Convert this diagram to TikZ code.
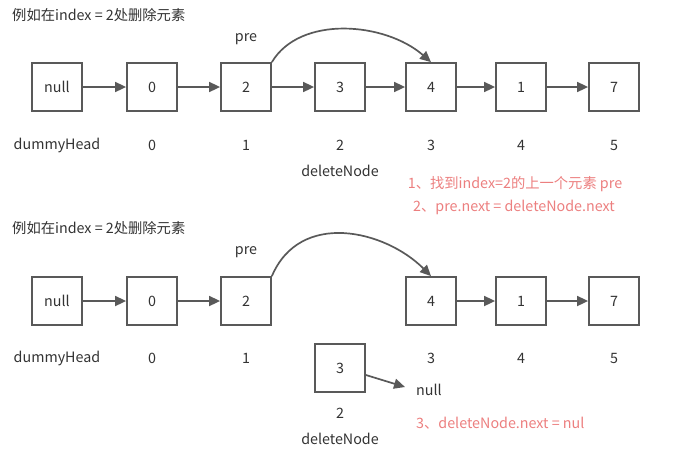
\documentclass[tikz,border=0pt]{standalone}
\usepackage{fontspec}
\setmainfont{Noto Sans CJK SC}
\usetikzlibrary{arrows.meta}
\definecolor{ln}{HTML}{595959}
\definecolor{txt}{HTML}{333333}
\definecolor{redt}{HTML}{EC7F7F}
\tikzset{
  box/.style={draw=ln, line width=1.8pt, minimum width=50pt, minimum height=48pt, inner sep=0pt, text=txt, font=\fontsize{14.3pt}{17pt}\selectfont},
  lbl/.style={text=txt, inner sep=0pt, font=\fontsize{14.3pt}{17pt}\selectfont},
  rlbl/.style={text=redt, inner sep=0pt, font=\fontsize{14.3pt}{17pt}\selectfont},
  link/.style={draw=ln, line width=1.7pt, -{Triangle[length=11pt,width=10pt]}},
}
\begin{document}
\begin{tikzpicture}[x=1pt,y=-1pt]
\useasboundingbox (0,0) rectangle (674,459);
% ---------- row 1 ----------
\node[lbl, anchor=west] (t1) at (12,15) {例如在index = 2处删除元素};
\node[lbl] (pre1) at (246,39) {pre};
\node[box] (a0) at (57,87) {null};
\node[box] (a1) at (152,87) {0};
\node[box] (a2) at (246,87) {2};
\node[box] (a3) at (340,87) {3};
\node[box] (a4) at (431,87) {4};
\node[box] (a5) at (521,87) {1};
\node[box] (a6) at (614,87) {7};
\draw[link] (a0) -- (a1);
\draw[link] (a1) -- (a2);
\draw[link] (a2) -- (a3);
\draw[link] (a3) -- (a4);
\draw[link] (a4) -- (a5);
\draw[link] (a5) -- (a6);
\draw[link] (a2.north east) .. controls (300,15) and (385,22) .. (a4.north);
\node[lbl] (la0) at (57,145) {dummyHead};
\node[lbl] (la1) at (152,145) {0};
\node[lbl] (la2) at (246,145) {1};
\node[lbl] (la3) at (340,145) {2};
\node[lbl] (la4) at (431,145) {3};
\node[lbl] (la5) at (521,145) {4};
\node[lbl] (la6) at (614,145) {5};
\node[lbl] (dn1) at (340,171) {deleteNode};
\node[rlbl] (r1) at (515,184) {1、找到index=2的上一个元素 pre};
\node[rlbl] (r2) at (514,207) {2、pre.next = deleteNode.next};
% ---------- row 2 ----------
\node[lbl, anchor=west] (t2) at (12,228) {例如在index = 2处删除元素};
\node[lbl] (pre2) at (246,252) {pre};
\node[box] (b0) at (57,301) {null};
\node[box] (b1) at (152,301) {0};
\node[box] (b2) at (246,301) {2};
\node[box] (b4) at (431,301) {4};
\node[box] (b5) at (521,301) {1};
\node[box] (b6) at (614,301) {7};
\draw[link] (b0) -- (b1);
\draw[link] (b1) -- (b2);
\draw[link] (b4) -- (b5);
\draw[link] (b5) -- (b6);
\draw[link] (b2.north east) .. controls (300,210) and (385,230) .. (b4.north);
\node[lbl] (lb0) at (57,358) {dummyHead};
\node[lbl] (lb1) at (152,358) {0};
\node[lbl] (lb2) at (246,358) {1};
\node[lbl] (lb4) at (431,358) {3};
\node[lbl] (lb5) at (521,358) {4};
\node[lbl] (lb6) at (614,358) {5};
\node[box] (b3) at (340,368) {3};
\node[lbl] (nl) at (429,390) {null};
\coordinate (nlend) at (405,387);
\draw[link] (b3.east |- 0,375) -- (nlend);
\node[lbl] (lb3) at (340,413) {2};
\node[lbl] (dn2) at (340,439) {deleteNode};
\node[rlbl, anchor=west] (r3) at (416,423) {3、deleteNode.next = nul};
\end{tikzpicture}
\end{document}
